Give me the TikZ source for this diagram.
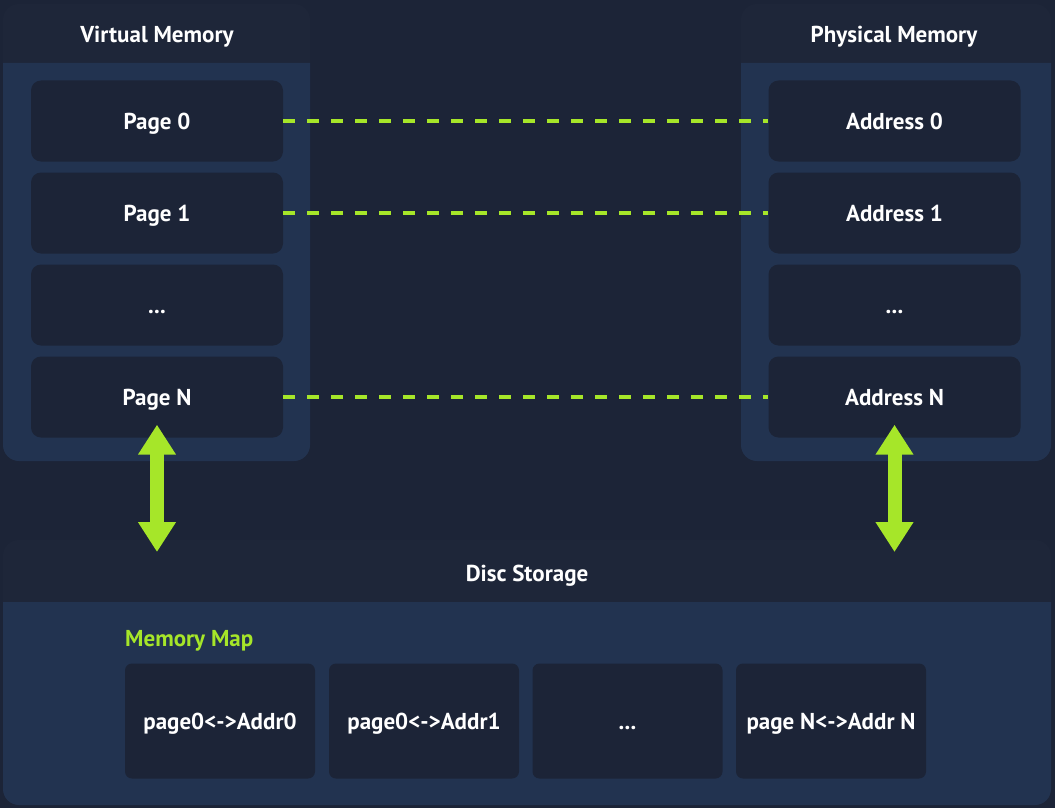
\documentclass[tikz,border=0pt]{standalone}
\usepackage{fontspec}
\setmainfont{PT Sans}
\usetikzlibrary{arrows.meta}
\definecolor{bg}{HTML}{1C2437}
\definecolor{hdr}{HTML}{1E2639}
\definecolor{panel}{HTML}{223350}
\definecolor{cell}{HTML}{1C2437}
\definecolor{lime}{HTML}{A6E629}
\newcommand{\lblfont}{\bfseries\fontsize{23}{27}\selectfont}
\tikzset{
  cellbox/.style={fill=cell, rounded corners=10pt, minimum width=252pt, minimum height=81pt, inner sep=0pt, text height=16pt, text depth=0pt, text=white, font=\lblfont},
  mapbox/.style={fill=cell, rounded corners=7pt, minimum width=190pt, minimum height=115pt, inner sep=0pt, text height=16pt, text depth=0pt, text=white, font=\lblfont},
  title/.style={text=white, inner sep=0pt, anchor=base, font=\lblfont},
  link/.style={draw=lime, line width=4pt, dash pattern=on 12pt off 12pt},
  fatarrow/.style={draw=lime, line width=14pt, {Triangle[width=36pt,length=30pt]}-{Triangle[width=36pt,length=30pt]}}
}
\begin{document}
\begin{tikzpicture}[x=1pt,y=-1pt]
\fill[bg] (0,0) rectangle (1055,808);
\useasboundingbox (0,0) rectangle (1055,808);
% groups
\foreach \xa/\xb/\ya/\yh/\yb in {3/310/4/63/461, 741/1051/4/63/461, 3/1051/540/602/805}{
  \fill[hdr, rounded corners=16pt] (\xa,\ya) rectangle (\xb,\yb);
  \fill[panel] (\xa,\yh) -- (\xb,\yh) [rounded corners=16pt] -- (\xb,\yb) -- (\xa,\yb) [sharp corners] -- cycle;
}
\node[title] (vt) at (157,43) {Virtual Memory};
\node[title] (pt) at (894,43) {Physical Memory};
\node[title] (dt) at (527,581) {Disc Storage};
% pages
\node[cellbox] (p0) at (157,121) {Page 0};
\node[cellbox] (p1) at (157,213) {Page 1};
\node[cellbox] (p2) at (157,305) {...};
\node[cellbox] (pN) at (157,397) {Page N};
\node[cellbox] (a0) at (894.5,121) {Address 0};
\node[cellbox] (a1) at (894.5,213) {Address 1};
\node[cellbox] (a2) at (894.5,305) {...};
\node[cellbox] (aN) at (894.5,397) {Address N};
% links
\draw[link] (p0.east) -- (a0.west);
\draw[link] (p1.east) -- (a1.west);
\draw[link] (pN.east) -- (aN.west);
% arrows
\coordinate (vd) at (157,552);
\coordinate (pd) at (894.5,552);
\draw[fatarrow] ([yshift=13pt]pN.south) -- (vd);
\draw[fatarrow] ([yshift=13pt]aN.south) -- (pd);
% memory map
\node[anchor=base west, inner sep=0pt, text=lime, font=\lblfont] (mm) at (125,646) {Memory Map};
\node[mapbox] (m0) at (220,721) {page0<->Addr0};
\node[mapbox] (m1) at (424,721) {page0<->Addr1};
\node[mapbox] (m2) at (627.5,721) {...};
\node[mapbox] (m3) at (831,721) {page N<->Addr N};
\end{tikzpicture}
\end{document}
